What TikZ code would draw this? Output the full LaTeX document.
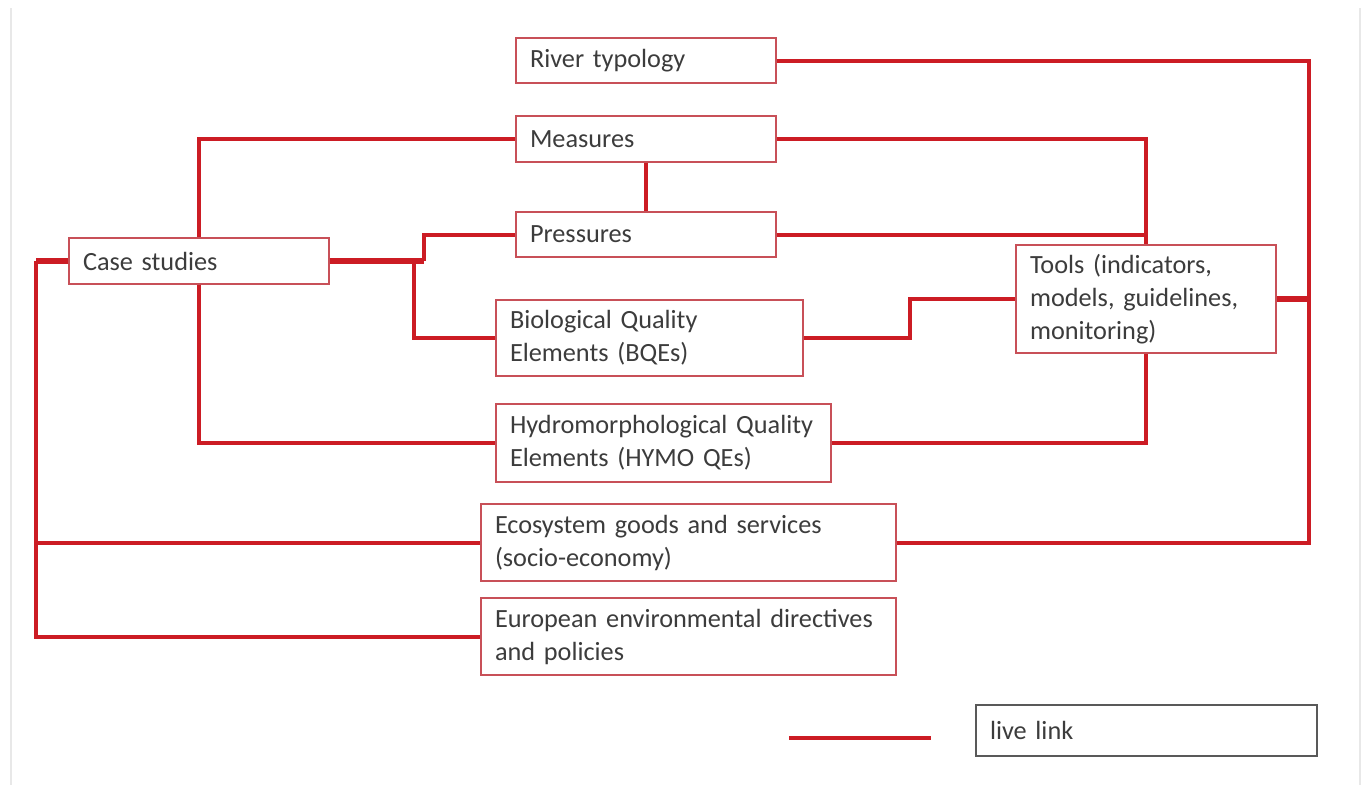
\documentclass[tikz,border=0pt]{standalone}
\usepackage{fontspec}
\setmainfont{Carlito}
\definecolor{linkred}{RGB}{204,28,36}
\definecolor{boxred}{RGB}{200,80,88}
\definecolor{textgray}{RGB}{60,60,60}
\definecolor{edgegray}{RGB}{232,232,232}
\DeclareRobustCommand{\unitfont}{\fontsize{19.7}{24.75}\selectfont\spaceskip=0.22em\relax}
\tikzset{
  unit/.style 2 args={draw=boxred, line width=1.1pt, fill=white, text=textgray,
    text width=#1, minimum height=#2, inner xsep=10.5pt, inner ysep=0pt, align=left,
    font=\unitfont},
  link/.style={draw=linkred, line width=3pt},
  trunk/.style={draw=linkred, line width=4.5pt},
}

\begin{document}
\begin{tikzpicture}[x=0.75pt,y=0.75pt,yscale=-1,xscale=1]
        \useasboundingbox (0,0) rectangle (1370,785);
        %page edges
        \draw [edgegray, line width=1.5pt] (11,8) -- (11,785) ;
        \draw [edgegray, line width=1.5pt] (1360,8) -- (1360,785) ;
        %Boxes
        \node [unit={174pt}{33.75pt}] (river) at (646,60.5) {\mbox{River typology}};
        \node [unit={174pt}{34.5pt}] (measures) at (646,139) {\mbox{Measures}};
        \node [unit={174pt}{33.75pt}] (pressures) at (646,234.5) {\mbox{Pressures}};
        \node [unit={174pt}{34.5pt}] (case) at (199,261) {\mbox{Case studies}};
        \node [unit={209.25pt}{57pt}] (bqe) at (649.5,338) {\mbox{Biological Quality}\\\mbox{Elements (BQEs)}};
        \node [unit={174pt}{81pt}] (tools) at (1146,299) {\mbox{Tools (indicators,}\\\mbox{models, guidelines,}\\\mbox{monitoring)}};
        \node [unit={230.25pt}{58.5pt}] (hymo) at (663.5,443) {\mbox{Hydromorphological Quality}\\\mbox{Elements (HYMO QEs)}};
        \node [unit={290.25pt}{57.75pt}] (eco) at (688.5,542.5) {\mbox{Ecosystem goods and services}\\\mbox{(socio-economy)}};
        \node [unit={290.25pt}{57.75pt}] (euro) at (688.5,636.5) {\mbox{European environmental directives}\\\mbox{and policies}};
        %Bus coordinates
        \coordinate (rbus) at (1309,299);
        \coordinate (lbus) at (36,635);
        %Links
        \draw [link] (river.east) -| (rbus) |- (eco.east) ;
        \draw [trunk] (tools.east) -- (rbus) ;
        \draw [link] (measures.west) -| (case.north) ;
        \draw [link] (measures.east) -| (tools.north) ;
        \draw [link] (pressures.east) -- (pressures.east -| tools.north) ;
        \draw [link] (measures.south) -- (pressures.north) ;
        \draw [link] (case.east) ++(84,0) |- (bqe.west) ;
        \draw [link] (case.east) ++(94,0) |- (pressures.west) ;
        \draw [trunk] (case.east) -- ++(94,0) ;
        \draw [link] (case.south) |- (hymo.west) ;
        \draw [link] (hymo.east) -| (tools.south) ;
        \draw [link] (bqe.east) -- ++(106,0) |- (tools.west) ;
        \draw [trunk] (case.west) -- (case.west -| lbus) ;
        \draw [link] (case.west -| lbus) |- (euro.west) ;
        \draw [link] (eco.west) -- (eco.west -| lbus) ;
        %Legend
        \coordinate (leg1) at (789,738);
        \coordinate (leg2) at (931,738);
        \draw [link] (leg1) -- (leg2) ;
        \node [unit={234.75pt}{38.25pt}, draw=gray!70!black] (legend) at (1146.5,730.5) {\mbox{live link}};
\end{tikzpicture}
\end{document}
